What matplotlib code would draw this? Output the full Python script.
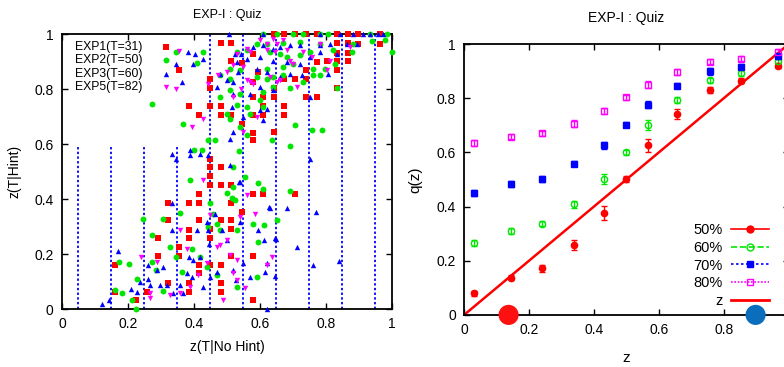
import matplotlib
matplotlib.use("Agg")
import matplotlib.pyplot as plt
from matplotlib.lines import Line2D
from matplotlib.ticker import FormatStrFormatter

plt.rcParams['font.family'] = ['Liberation Sans', 'DejaVu Sans']

# ---- left panel: scatter of z(T|Hint) vs z(T|No Hint) ----
exp1_x = [0.483, 0.512, 0.512, 0.354, 0.448, 0.448, 0.546, 0.580, 0.595, 0.580,
          0.642, 0.673, 0.706, 0.739, 0.772, 0.834, 0.868, 0.898, 0.964,
          0.964, 0.898, 0.868, 0.834, 0.834, 0.868, 0.802, 0.834, 0.868, 0.772,
          0.739, 0.834, 0.739, 0.673, 0.642, 0.834, 0.706,
          0.739, 0.772, 0.580, 0.610, 0.642, 0.673, 0.673, 0.610, 0.610, 0.580,
          0.482, 0.482, 0.512, 0.386, 0.416, 0.448, 0.546, 0.580, 0.580, 0.642,
          0.448, 0.448, 0.482, 0.448, 0.448, 0.482, 0.512, 0.416, 0.416, 0.386, 0.322,
          0.322, 0.416, 0.448, 0.482, 0.512, 0.512, 0.512, 0.546, 0.580, 0.610, 0.706,
          0.580, 0.482, 0.448, 0.416, 0.416, 0.386, 0.354, 0.322, 0.290, 0.290,
          0.257, 0.224, 0.161, 0.161, 0.386, 0.482, 0.482, 0.580, 0.448, 0.386, 0.386, 0.354, 0.512]
exp1_y = [0.967, 0.967, 0.901, 0.869, 0.835, 0.804, 0.895, 0.929, 0.864, 0.826,
          1.0, 1.0, 1.0, 1.0, 1.0, 1.0, 1.0, 1.0, 1.0,
          0.965, 0.965, 0.967, 0.967, 0.932, 0.932, 0.901, 0.901, 0.901, 0.898,
          0.868, 0.868, 0.835, 0.835, 0.804, 0.804, 0.835,
          0.771, 0.771, 0.771, 0.771, 0.771, 0.740, 0.707, 0.740, 0.707, 0.707,
          0.740, 0.707, 0.707, 0.740, 0.707, 0.740, 0.674, 0.640, 0.614, 0.644,
          0.544, 0.517, 0.517, 0.484, 0.450, 0.450, 0.450, 0.418, 0.386, 0.386, 0.386,
          0.323, 0.323, 0.291, 0.323, 0.323, 0.291, 0.386, 0.353, 0.418, 0.418, 0.418,
          0.192, 0.160, 0.160, 0.160, 0.130, 0.096, 0.192, 0.096, 0.257, 0.192,
          0.063, 0.033, 0.160, 0.063, 0.063, 0.096, 0.063, 0.033, 0.257, 0.287, 0.257, 0.226, 0.192]

exp2_x = [0.999, 0.347, 0.272, 0.366, 0.428, 0.408, 0.401, 0.423, 0.388, 0.443, 0.464,
          0.519, 0.537, 0.555, 0.595, 0.608, 0.635, 0.691, 0.706, 0.757, 0.691, 0.651,
          0.782, 0.834, 0.272, 0.305, 0.246, 0.358, 0.459, 0.469, 0.479, 0.529, 0.499,
          0.514, 0.448, 0.443, 0.613, 0.580, 0.595, 0.590, 0.529, 0.469, 0.418, 0.393,
          0.363, 0.347, 0.327, 0.284, 0.226, 0.211, 0.224, 0.183, 0.174, 0.204, 0.161,
          0.307, 0.272, 0.438, 0.519, 0.524, 0.560,
          0.610, 0.651, 0.701, 0.731, 0.782, 0.807, 0.933, 0.984,
          0.590, 0.620, 0.671, 0.721, 0.782, 0.883, 0.938, 0.979,
          0.529, 0.560, 0.630, 0.661, 0.681, 0.721, 0.752, 0.822, 0.878,
          0.509, 0.539, 0.620, 0.671, 0.701, 0.762, 0.827,
          0.479, 0.509, 0.590, 0.620, 0.640, 0.671, 0.731, 0.762, 0.797,
          0.479, 0.509, 0.539, 0.610, 0.640, 0.691,
          0.529, 0.560, 0.600, 0.610, 0.499, 0.509, 0.539, 0.570, 0.787]
exp2_y = [0.935, 0.935, 0.747, 0.672, 0.935, 0.895, 0.577, 0.577, 0.469, 0.614, 0.614,
          0.517, 0.574, 0.481, 0.459, 0.438, 0.614, 0.593, 0.671, 0.653, 0.430, 0.323,
          0.850, 0.805, 0.269, 0.326, 0.326, 0.351, 0.344, 0.311, 0.287, 0.287, 0.423,
          0.404, 0.386, 0.299, 0.305, 0.311, 0.245, 0.117, 0.081, 0.123, 0.190, 0.220,
          0.136, 0.190, 0.226, 0.142, 0.111, 0.033, 0.0, 0.059, 0.171, 0.162, 0.069,
          0.065, 0.172, 0.154, 0.444, 0.396, 0.632,
          1.0, 1.0, 0.999, 1.0, 0.999, 0.999, 1.0, 1.0,
          0.965, 0.965, 0.969, 0.971, 0.965, 0.965, 0.975, 0.977,
          0.935, 0.941, 0.935, 0.929, 0.916, 0.923, 0.935, 0.941, 0.935,
          0.874, 0.868, 0.874, 0.880, 0.892, 0.874, 0.892,
          0.850, 0.838, 0.844, 0.838, 0.844, 0.850, 0.826, 0.850, 0.874,
          0.771, 0.795, 0.783, 0.789, 0.807, 0.805,
          0.741, 0.735, 0.759, 0.735, 0.711, 0.692, 0.662, 0.711, 0.650]

exp3_x = [0.507, 0.610, 0.782, 0.842, 0.883, 0.913, 0.933, 0.974, 0.959,
          0.383, 0.403, 0.347, 0.398, 0.428, 0.363, 0.479, 0.499, 0.469, 0.519,
          0.524, 0.544, 0.560, 0.529, 0.534,
          0.580, 0.610, 0.640, 0.661, 0.691, 0.721, 0.782, 0.812, 0.863, 0.893,
          0.600, 0.640, 0.681, 0.721, 0.752, 0.782, 0.832,
          0.590, 0.620, 0.661, 0.691, 0.726, 0.807,
          0.519, 0.600, 0.640, 0.752, 0.570, 0.514, 0.600, 0.620, 0.549, 0.509, 0.519,
          0.332, 0.388, 0.388, 0.347, 0.418, 0.443,
          0.332, 0.509, 0.539, 0.610,
          0.751, 0.683, 0.770, 0.648, 0.713, 0.630, 0.760, 0.840, 0.646,
          0.120, 0.143, 0.171, 0.209, 0.226, 0.236, 0.262, 0.262, 0.267, 0.287, 0.297,
          0.307, 0.317, 0.332, 0.337, 0.368, 0.378, 0.358, 0.386, 0.393, 0.398, 0.408,
          0.418, 0.428, 0.438, 0.443, 0.445, 0.448, 0.464, 0.469, 0.484, 0.499, 0.519,
          0.527, 0.536, 0.539, 0.549, 0.570, 0.595, 0.613, 0.620, 0.615, 0.628, 0.646, 0.620]
exp3_y = [1.0, 1.0, 1.0, 1.0, 1.0, 1.0, 1.0, 1.0, 1.0,
          0.935, 0.929, 0.892, 0.892, 0.910, 0.826, 0.856, 0.832, 0.807, 0.826,
          0.929, 0.929, 0.910, 0.898, 0.862,
          0.953, 0.959, 0.947, 0.953, 0.959, 0.959, 0.959, 0.965, 0.965, 0.965,
          0.916, 0.904, 0.898, 0.892, 0.916, 0.935, 0.929,
          0.874, 0.862, 0.844, 0.856, 0.850, 0.856,
          0.783, 0.807, 0.795, 0.771, 0.783, 0.735, 0.723, 0.729, 0.699, 0.620, 0.644,
          0.565, 0.577, 0.559, 0.547, 0.565, 0.559,
          0.384, 0.523, 0.462, 0.686,
          0.545, 0.369, 0.352, 0.255, 0.224, 0.369, 0.160, 0.176, 0.121,
          0.018, 0.033, 0.212, 0.071, 0.063, 0.099, 0.160, 0.111, 0.087, 0.142, 0.087,
          0.154, 0.087, 0.287, 0.057, 0.057, 0.130, 0.087, 0.190, 0.117, 0.178, 0.287,
          0.190, 0.081, 0.317, 0.287, 0.238, 0.117, 0.347, 0.136, 0.287, 0.251, 0.142,
          0.105, 0.462, 0.317, 0.166, 0.117, 0.287, 0.251, 0.166, 0.136, 0.372, 0.257, 0.0]

exp5_x = [0.356, 0.345, 0.393, 0.428,
          0.474, 0.499, 0.519, 0.529, 0.549, 0.560, 0.570, 0.580, 0.519, 0.544, 0.590,
          0.549, 0.443, 0.620, 0.645, 0.651, 0.681, 0.691, 0.701, 0.661, 0.630, 0.651,
          0.711, 0.802, 0.812, 0.873, 0.731, 0.782, 0.757, 0.560, 0.570, 0.600, 0.620,
          0.640, 0.671,
          0.241, 0.267, 0.287, 0.267, 0.327, 0.358, 0.358, 0.428, 0.448, 0.469, 0.479,
          0.499, 0.509, 0.529, 0.539, 0.555, 0.560, 0.585, 0.620, 0.635, 0.519, 0.438,
          0.388, 0.378, 0.413, 0.489, 0.529]
exp5_y = [0.938, 0.801, 0.662, 0.690,
          0.850, 0.862, 0.886, 0.929, 0.880, 0.832, 0.826, 0.820, 0.771, 0.801, 0.699,
          0.644, 0.820, 0.941, 0.935, 0.965, 0.941, 0.904, 0.892, 0.832, 0.844, 0.826,
          0.807, 0.868, 0.904, 0.953, 0.935, 0.965, 0.916, 0.947, 0.935, 0.977, 0.965,
          0.983, 0.977,
          0.190, 0.039, 0.172, 0.057, 0.051, 0.287, 0.057, 0.469, 0.341, 0.226, 0.232,
          0.251, 0.196, 0.178, 0.335, 0.075, 0.414, 0.347, 0.160, 0.190, 0.130, 0.166,
          0.081, 0.220, 0.123, 0.033, 0.105]

bin_edges = [0.05, 0.15, 0.25, 0.35, 0.45, 0.55, 0.65, 0.75, 0.85, 0.95]
bin_tops = [0.59, 0.59, 0.59, 0.59, 1.0, 1.0, 1.0, 1.0, 1.0, 1.0]

# ---- right panel: q(z) ----
z = [0.030, 0.144, 0.241, 0.340, 0.431, 0.500, 0.566, 0.657, 0.756, 0.854, 0.968]
q50 = [0.080, 0.138, 0.172, 0.259, 0.376, 0.501, 0.626, 0.741, 0.831, 0.865, 0.920]
e50 = [0.010, 0.010, 0.012, 0.018, 0.027, 0.010, 0.025, 0.018, 0.010, 0.010, 0.010]
q60 = [0.265, 0.310, 0.337, 0.408, 0.501, 0.600, 0.701, 0.794, 0.866, 0.893, 0.936]
e60 = [0.010, 0.010, 0.010, 0.012, 0.018, 0.010, 0.020, 0.012, 0.010, 0.010, 0.010]
q70 = [0.450, 0.483, 0.502, 0.558, 0.626, 0.702, 0.776, 0.846, 0.899, 0.917, 0.954]
e70 = [0.010, 0.010, 0.010, 0.010, 0.012, 0.010, 0.012, 0.010, 0.012, 0.010, 0.010]
q80 = [0.634, 0.658, 0.670, 0.706, 0.753, 0.803, 0.850, 0.897, 0.935, 0.946, 0.970]
e80 = [0.010, 0.010, 0.010, 0.012, 0.012, 0.010, 0.012, 0.012, 0.010, 0.010, 0.010]
dots_x = [0.137, 0.898]
dots_c = ['#ff1010', '#0a6ebd']

fig = plt.figure(figsize=(7.84, 3.67), dpi=100)

ax1 = fig.add_axes([0.079, 0.158, 0.421, 0.749])
ax1.vlines(bin_edges, 0, bin_tops, colors='#0000ff', linestyles=(0, (1.3, 1.3)), lw=1.3, zorder=1)
s = 15
ax1.scatter(exp1_x, exp1_y, s=s, marker='s', c='#ff0000', lw=0, label='EXP1(T=31)', clip_on=False, zorder=3)
ax1.scatter(exp2_x, exp2_y, s=s + 3, marker='o', c='#00e600', lw=0, label='EXP2(T=50)', clip_on=False, zorder=3)
ax1.scatter(exp3_x, exp3_y, s=s, marker='^', c='#0000ff', lw=0, label='EXP3(T=60)', clip_on=False, zorder=3)
ax1.scatter(exp5_x, exp5_y, s=s, marker='v', c='#ff00ff', lw=0, label='EXP5(T=82)', clip_on=False, zorder=3)
ax1.set_xlim(0, 1)
ax1.set_ylim(0, 1)
ax1.set_title('EXP-I : Quiz', fontsize=9, pad=11.5)
ax1.set_xlabel('z(T|No Hint)', fontsize=10, labelpad=6)
ax1.set_ylabel('z(T|Hint)', fontsize=10, labelpad=9)
ax1.legend(loc='upper left', bbox_to_anchor=(0.039, 0.975), frameon=False, markerfirst=False,
           handlelength=1.0, handletextpad=1.45, labelspacing=0.12, fontsize=8.8,
           borderpad=0, borderaxespad=0, scatterpoints=1)

ax2 = fig.add_axes([0.592, 0.142, 0.414, 0.738])
ax2.plot([0, 1], [0, 1], color='#ff0000', lw=1.8, zorder=2)
ax2.errorbar(z, q50, yerr=e50, fmt='o', ms=4.5, color='#ff0000', capsize=2, elinewidth=1, zorder=3)
ax2.errorbar(z, q60, yerr=e60, fmt='o', ms=4.5, color='#00e600', mfc='none', mew=1, capsize=2, elinewidth=1, zorder=3)
ax2.errorbar(z, q70, yerr=e70, fmt='s', ms=5, color='#0000ff', capsize=2, elinewidth=1, zorder=3)
ax2.errorbar(z, q80, yerr=e80, fmt='s', ms=5, color='#ff00ff', mfc='none', mew=1, capsize=2, elinewidth=1, zorder=3)
ax2.scatter(dots_x, [0, 0], s=210, c=dots_c, lw=0, clip_on=False, zorder=5)
ax2.set_xlim(0, 1)
ax2.set_ylim(0, 1)
ax2.set_title('EXP-I : Quiz', fontsize=10, pad=16)
ax2.set_xlabel('z', fontsize=11, labelpad=10)
ax2.set_ylabel('q(z)', fontsize=11, labelpad=10)
handles = [
    Line2D([], [], color='#ff0000', lw=1.2, marker='o', ms=5),
    Line2D([], [], color='#00e600', lw=1.2, ls='--', marker='o', ms=5, mfc='none'),
    Line2D([], [], color='#0000ff', lw=1.2, ls=(0, (1.5, 1.5)), marker='s', ms=5),
    Line2D([], [], color='#ff00ff', lw=1.2, ls=(0, (1, 1)), marker='s', ms=5, mfc='none'),
    Line2D([], [], color='#ff0000', lw=2),
]
ax2.legend(handles, ['50%', '60%', '70%', '80%', 'z'], loc='lower right',
           bbox_to_anchor=(0.938, 0.026), frameon=False, markerfirst=False,
           fontsize=10.5, handlelength=2.6, handletextpad=0.55, labelspacing=0.25,
           borderpad=0, borderaxespad=0)

for ax in (ax1, ax2):
    ax.set_yticks([0, 0.2, 0.4, 0.6, 0.8, 1.0])
    ax.xaxis.set_major_formatter(FormatStrFormatter('%g'))
    ax.yaxis.set_major_formatter(FormatStrFormatter('%g'))
    ax.tick_params(direction='in', length=4, width=1, top=True, right=True,
                   labelsize=10, pad=6)
    for sp in ax.spines.values():
        sp.set_linewidth(1.3)
ax1.set_xticks([0, 0.2, 0.4, 0.6, 0.8, 1.0])
ax2.set_xticks([0, 0.2, 0.4, 0.6, 0.8])

fig.savefig('out.png', dpi=100)
